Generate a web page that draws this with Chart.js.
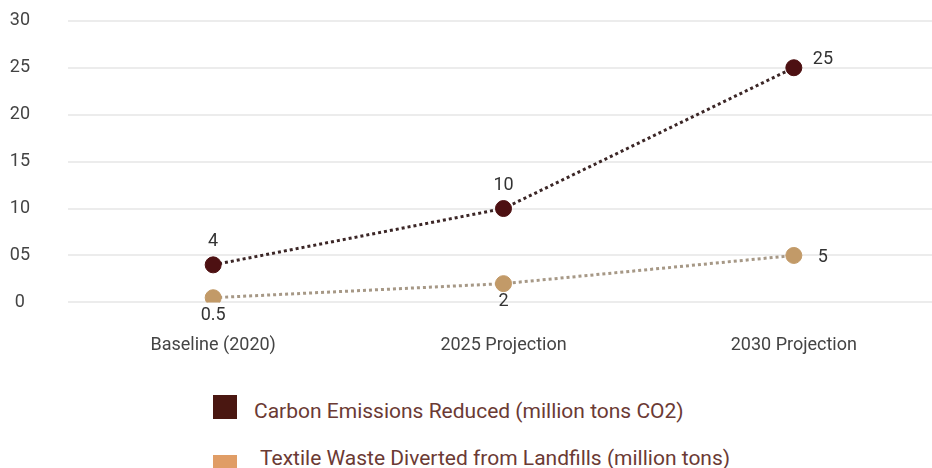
<!DOCTYPE html>
<html>
<head>
<meta charset="utf-8">
<script src="https://cdn.jsdelivr.net/npm/chart.js@4"></script>
<style>
  html, body { margin: 0; padding: 0; background: #fff; overflow: hidden; }
  #wrap { position: absolute; left: 0; top: 0; width: 948px; height: 380px; }
  .legend { font-family: Roboto, sans-serif; font-size: 21px; color: #6b3a34; line-height: 24px; }
  .legend div { position: absolute; white-space: nowrap; }
  .sq { width: 24px; height: 24px; }
</style>
</head>
<body>
<div id="wrap"><canvas id="myChart" width="948" height="380"></canvas></div>
<div class="legend">
  <div class="sq" style="left:213px; top:395px; background:#4a1711"></div>
  <div style="left:254px; top:399px;">Carbon Emissions Reduced (million tons CO2)</div>
  <div class="sq" style="left:213px; top:455px; background:#e09d66"></div>
  <div style="left:260px; top:446px;">Textile Waste Diverted from Landfills (million tons)</div>
</div>
<script>
const categories = ["Baseline (2020)", "2025 Projection", "2030 Projection"];
const carbonReduced = [4, 10, 25];
const textileDiverted = [0.5, 2, 5];
const yTicks = [0, 5, 10, 15, 20, 25, 30];

// where each value label sits: above / below / right of the point
const carbonLabelPos = ["top", "top", "right"];
const textileLabelPos = ["bottom", "bottom", "right"];

const pointLabels = {
  id: "pointLabels",
  afterDatasetsDraw(chart) {
    const ctx = chart.ctx;
    ctx.save();
    ctx.font = "18px Roboto, sans-serif";
    ctx.fillStyle = "#333";
    chart.data.datasets.forEach((ds, i) => {
      const meta = chart.getDatasetMeta(i);
      meta.data.forEach((pt, j) => {
        const pos = ds.labelPos[j];
        const txt = String(ds.data[j]);
        if (pos === "top") {
          ctx.textAlign = "center"; ctx.textBaseline = "middle";
          ctx.fillText(txt, pt.x, pt.y - 23);
        } else if (pos === "bottom") {
          ctx.textAlign = "center"; ctx.textBaseline = "middle";
          ctx.fillText(txt, pt.x, pt.y + 18);
        } else {
          ctx.textAlign = "left"; ctx.textBaseline = "middle";
          ctx.fillText(txt, pt.x + ds.labelDx, pt.y + ds.labelDy);
        }
      });
    });
    ctx.restore();
  }
};

new Chart(document.getElementById("myChart"), {
  type: "line",
  data: {
    labels: categories,
    datasets: [
      {
        label: "Carbon Emissions Reduced (million tons CO2)",
        data: carbonReduced,
        labelPos: carbonLabelPos,
        labelDx: 19,
        labelDy: -8,
        borderColor: "#3b2626",
        borderWidth: 3,
        borderDash: [3, 3],
        pointBackgroundColor: "#4d1012",
        pointBorderColor: "#4d1012",
        pointBorderWidth: 1,
        pointRadius: 8,
        tension: 0
      },
      {
        label: "Textile Waste Diverted from Landfills (million tons)",
        data: textileDiverted,
        labelPos: textileLabelPos,
        labelDx: 24,
        labelDy: 2,
        borderColor: "#a69886",
        borderWidth: 3,
        borderDash: [3, 3],
        pointBackgroundColor: "#c29a68",
        pointBorderColor: "#c29a68",
        pointBorderWidth: 1,
        pointRadius: 8,
        tension: 0
      }
    ]
  },
  options: {
    responsive: false,
    animation: false,
    layout: { padding: 0 },
    plugins: { legend: { display: false }, tooltip: { enabled: false } },
    scales: {
      x: {
        offset: true,
        grid: { display: false },
        border: { display: false },
        ticks: { color: "#444", font: { family: "Roboto", size: 18 }, padding: 24, maxRotation: 0 }
      },
      y: {
        min: 0,
        max: 30,
        afterBuildTicks: (axis) => { axis.ticks = yTicks.map(v => ({ value: v })); },
        afterFit: (axis) => { axis.width = 68; },
        grid: { color: "#ececec", lineWidth: 2, drawTicks: true, tickLength: 28, tickColor: "rgba(0,0,0,0)" },
        border: { display: false },
        ticks: {
          color: "#444",
          font: { family: "Roboto", size: 18 },
          padding: 10,
          crossAlign: "center",
          callback: (v) => v === 0 ? "0" : String(v).padStart(2, "0")
        }
      }
    }
  },
  plugins: [pointLabels]
});
</script>
</body>
</html>
